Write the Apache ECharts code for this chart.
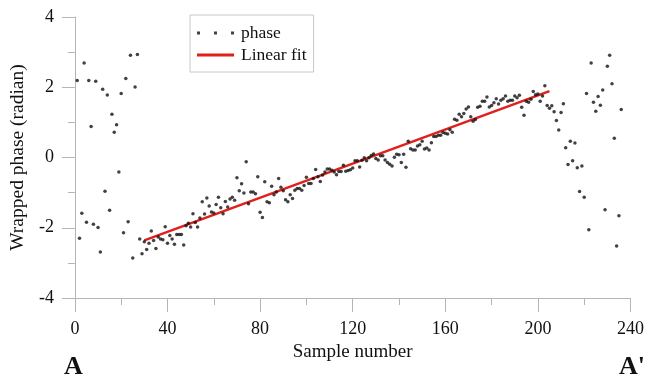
<!DOCTYPE html>
<html>
<head>
<meta charset="utf-8">
<script src="https://cdn.jsdelivr.net/npm/echarts@6/dist/echarts.min.js"></script>
<style>
html,body{margin:0;padding:0;background:#fff;}
#chart{width:647px;height:380px;}
</style>
</head>
<body>
<div id="chart"></div>
<script>
// first sample number of the phase series
var firstSample = 1;
// wrapped phase (radian) for samples 1..236
var phase = [
  2.19, -2.30, -1.59, 2.69, -1.84, 2.19, 0.88, -1.90, 2.17, -1.99,
  -2.69, 1.94, -0.96, 1.78, -1.50, 1.23, 0.72, 0.93, -0.41, 1.82,
  -2.14, 2.25, -1.83, 2.91, -2.86, 2.01, 2.93, -2.32, -2.74, -2.40,
  -2.62, -2.44, -2.09, -2.36, -2.59, -2.26, -2.32, -2.34, -1.97, -2.44,
  -2.22, -2.32, -2.47, -2.19, -2.19, -2.19, -2.49, -1.94, -1.87, -1.98,
  -1.60, -1.85, -1.98, -1.72, -1.26, -1.61, -1.15, -1.38, -1.55, -1.58,
  -1.34, -1.13, -1.43, -1.60, -1.25, -1.41, -1.18, -1.13, -1.22, -0.58,
  -0.95, -0.75, -1.01, -0.12, -1.32, -0.98, -0.98, -1.03, -0.55, -1.56,
  -1.71, -0.69, -1.26, -1.29, -0.82, -1.06, -0.98, -0.60, -0.85, -0.95,
  -1.20, -1.26, -1.06, -1.17, -0.93, -0.88, -0.88, -0.93, -0.80, -0.56,
  -0.74, -0.74, -0.60, -0.34, -0.55, -0.68, -0.50, -0.41, -0.33, -0.33,
  -0.36, -0.41, -0.49, -0.40, -0.40, -0.22, -0.39, -0.37, -0.35, -0.30,
  -0.09, -0.09, -0.27, -0.08, -0.01, -0.09, -0.01, 0.06, 0.10, -0.03,
  -0.07, 0.05, 0.05, -0.07, -0.14, -0.19, -0.24, 0.01, 0.09, 0.08,
  -0.14, 0.09, -0.28, 0.46, 0.25, 0.21, 0.21, 0.33, 0.36, 0.46,
  0.24, 0.27, 0.21, 0.42, 0.60, 0.60, 0.63, 0.63, 0.71, 0.69,
  0.67, 0.79, 0.72, 1.09, 1.06, 1.23, 1.16, 1.25, 1.38, 1.44,
  1.16, 1.03, 1.08, 1.43, 1.46, 1.60, 1.60, 1.72, 1.44, 1.48,
  1.56, 1.67, 1.52, 1.63, 1.67, 1.75, 1.60, 1.63, 1.63, 1.75,
  1.70, 1.77, 1.43, 1.20, 1.60, 1.57, 1.66, 1.88, 1.79, 1.81,
  1.60, 1.75, 2.04, 1.48, 1.40, 1.47, 1.30, 1.05, 0.78, 1.28,
  1.53, 0.28, -0.20, 0.46, -0.09, 0.41, -0.29, -0.97, -0.24, -1.13,
  1.82, -2.06, 2.69, 1.57, 1.32, 1.74, 1.49, 1.92, -1.49, 2.60,
  2.91, 2.10, 0.55, -2.52, -1.66, 1.37
];
// linear fit end points
var fitX = [30, 205];
var fitY = [-2.36, 1.89];

var seriesNames = ['phase', 'Linear fit'];

var phaseData = phase.map(function (v, i) { return [firstSample + i, v]; });
var fitData = fitX.map(function (x, i) { return [x, fitY[i]]; });

var serif = '"Liberation Serif", "Times New Roman", serif';
var axisGray = '#b5b5b5';

var chart = echarts.init(document.getElementById('chart'), null, {renderer: 'canvas'});
chart.setOption({
  animation: false,
  backgroundColor: '#fff',
  grid: {left: 74, right: 14, top: 17, bottom: 82, containLabel: false},
  legend: {
    orient: 'vertical',
    left: 190,
    top: 15,
    width: 124,
    padding: [9, 7, 8, 7],
    itemGap: 4,
    itemWidth: 37,
    itemHeight: 14,
    borderColor: '#c8c8c8',
    borderWidth: 1,
    textStyle: {fontFamily: serif, fontSize: 17.5, color: '#111', padding: [0, 0, 0, 2]},
    data: [
      {name: seriesNames[0], icon: 'path://M0,0h3v3h-3z M17,0h3v3h-3z M34,0h3v3h-3z'},
      {name: seriesNames[1], icon: 'path://M0,0h37v3h-37z'}
    ]
  },
  xAxis: {
    type: 'value',
    min: 0, max: 240, interval: 40,
    position: 'bottom',
    name: 'Sample number',
    nameLocation: 'middle',
    nameGap: 42,
    nameTextStyle: {fontFamily: serif, fontSize: 19, color: '#111'},
    axisLine: {show: true, onZero: false, lineStyle: {color: axisGray, width: 1}},
    axisTick: {show: true, length: 14, lineStyle: {color: axisGray}},
    minorTick: {show: true, splitNumber: 2, length: 7, lineStyle: {color: axisGray}},
    axisLabel: {fontFamily: serif, fontSize: 18, color: '#111', margin: 22},
    splitLine: {show: false}
  },
  yAxis: {
    type: 'value',
    min: -4, max: 4, interval: 2,
    name: 'Wrapped phase (radian)',
    nameLocation: 'middle',
    nameGap: 40,
    nameRotate: 90,
    nameTextStyle: {fontFamily: serif, fontSize: 19.5, color: '#111'},
    axisLine: {show: true, onZero: false, lineStyle: {color: axisGray, width: 1}},
    axisTick: {show: true, length: 13, lineStyle: {color: axisGray}},
    minorTick: {show: true, splitNumber: 2, length: 7, lineStyle: {color: axisGray}},
    axisLabel: {fontFamily: serif, fontSize: 18, color: '#111', margin: 21},
    splitLine: {show: false}
  },
  graphic: [
    {type: 'text', left: 64, top: 354, style: {text: 'A', font: 'bold 26px ' + serif, fill: '#111'}},
    {type: 'text', left: 619, top: 354, style: {text: "A'", font: 'bold 26px ' + serif, fill: '#111'}}
  ],
  series: [
    {
      name: seriesNames[0],
      type: 'scatter',
      data: phaseData,
      symbol: 'circle',
      symbolSize: 3.5,
      itemStyle: {color: '#111'},
      z: 3
    },
    {
      name: seriesNames[1],
      type: 'line',
      data: fitData,
      showSymbol: false,
      symbol: 'none',
      itemStyle: {color: '#e0201b'},
      lineStyle: {color: '#e0201b', width: 2.5},
      z: 2
    }
  ]
});
</script>
</body>
</html>
